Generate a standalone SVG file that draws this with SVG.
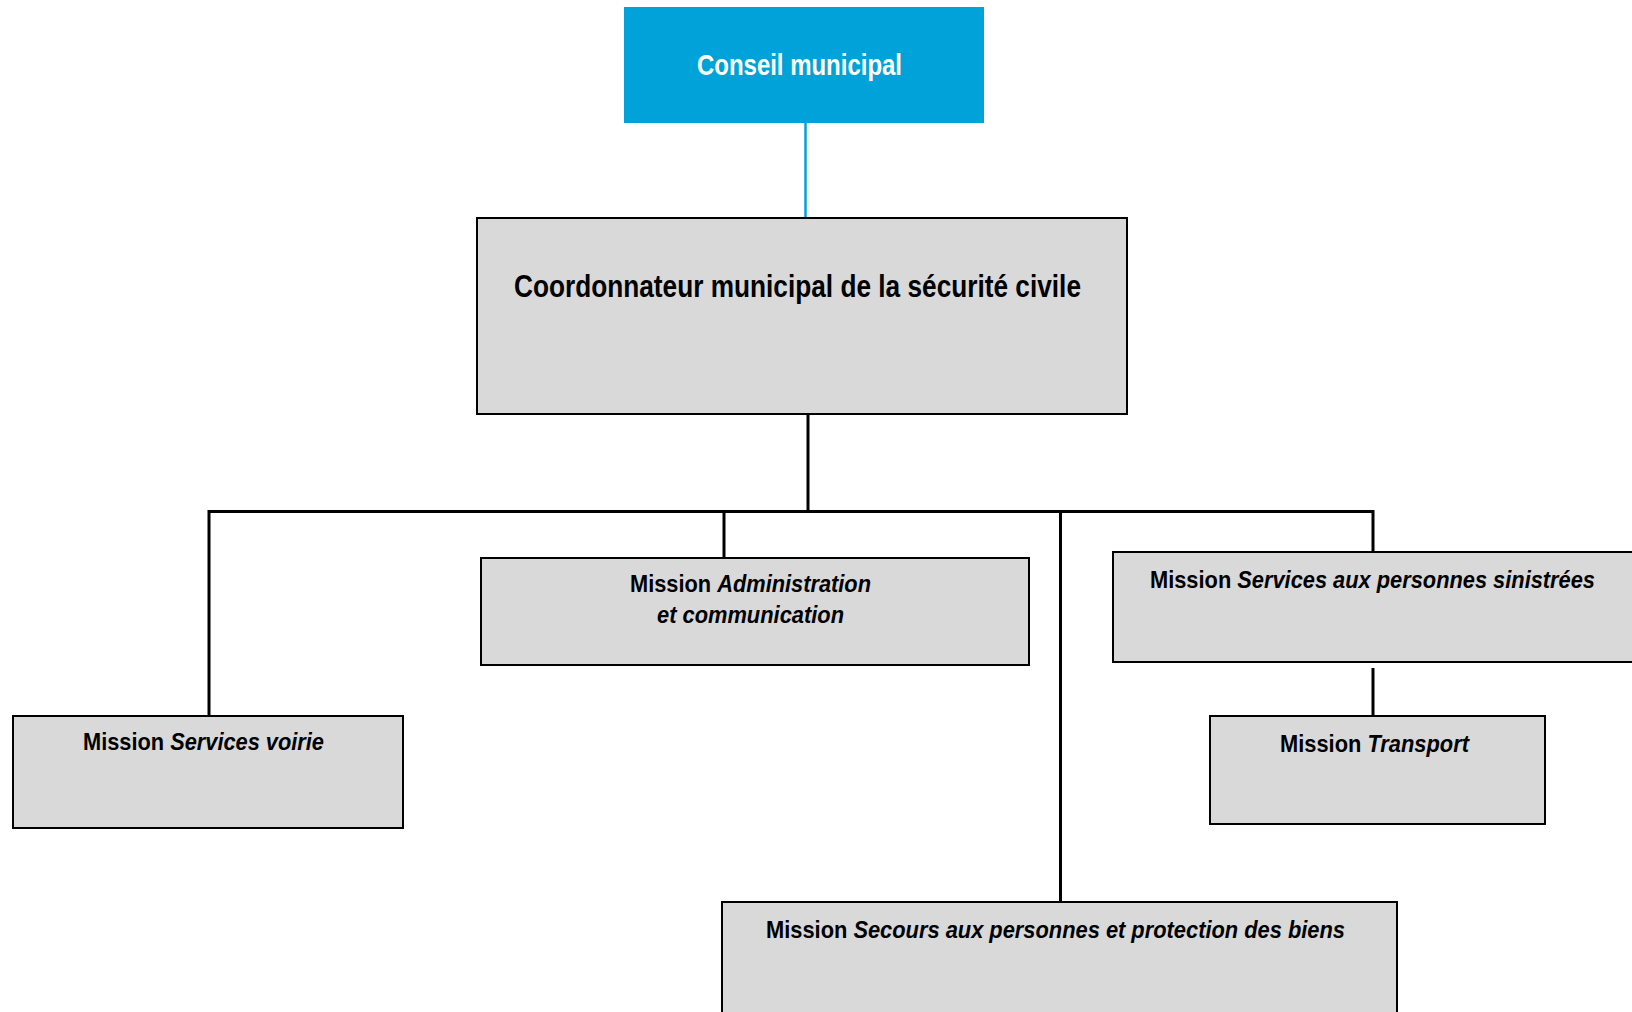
<svg xmlns="http://www.w3.org/2000/svg" width="1632" height="1012" viewBox="0 0 1632 1012">
<style>
.box{fill:#d9d9d9;stroke:#000;stroke-width:2}
.t{font-family:"Liberation Sans Narrow","Liberation Sans",Arial,sans-serif;font-weight:bold;fill:#000}
.m{font-size:24px}
.i{font-style:italic}
.c{fill:none;stroke:#000;stroke-width:3}
</style>
<rect width="1632" height="1012" fill="#fff"/>
<g id="connectors">
<line x1="805.5" y1="123" x2="805.5" y2="218" stroke="#00a3d9" stroke-width="2.5"/>
<line class="c" x1="808" y1="414" x2="808" y2="511.5"/>
<polyline class="c" points="209,715 209,511.5 1373,511.5 1373,556"/>
<line class="c" x1="724" y1="511.5" x2="724" y2="558"/>
<line class="c" x1="1060.5" y1="511.5" x2="1060.5" y2="905"/>
<line class="c" x1="1373" y1="668" x2="1373" y2="716"/>
</g>
<g id="conseil">
<rect x="624" y="7" width="360" height="116" fill="#00a3d9"/>
<text class="t" x="697" y="75" font-size="30" fill="#fff" style="fill:#fff" textLength="205" lengthAdjust="spacingAndGlyphs">Conseil municipal</text>
</g>
<g id="coordonnateur">
<rect class="box" x="477" y="218" width="650" height="196"/>
<text class="t" x="514" y="297" font-size="31" textLength="567" lengthAdjust="spacingAndGlyphs">Coordonnateur municipal de la sécurité civile</text>
</g>
<g id="administration">
<rect class="box" x="481" y="558" width="548" height="107"/>
<text class="t m" x="630" y="592" textLength="241" lengthAdjust="spacingAndGlyphs">Mission <tspan class="i">Administration</tspan></text>
<text class="t m i" x="657" y="623" textLength="187" lengthAdjust="spacingAndGlyphs">et communication</text>
</g>
<g id="voirie">
<rect class="box" x="13" y="716" width="390" height="112"/>
<text class="t m" x="83" y="750" textLength="241" lengthAdjust="spacingAndGlyphs">Mission <tspan class="i">Services voirie</tspan></text>
</g>
<g id="sinistrees">
<rect class="box" x="1113" y="552" width="540" height="110"/>
<text class="t m" x="1150" y="588" textLength="445" lengthAdjust="spacingAndGlyphs">Mission <tspan class="i">Services aux personnes sinistrées</tspan></text>
</g>
<g id="transport">
<rect class="box" x="1210" y="716" width="335" height="108"/>
<text class="t m" x="1280" y="752" textLength="189" lengthAdjust="spacingAndGlyphs">Mission <tspan class="i">Transport</tspan></text>
</g>
<g id="secours">
<rect class="box" x="722" y="902" width="675" height="130"/>
<text class="t m" x="766" y="938" textLength="579" lengthAdjust="spacingAndGlyphs">Mission <tspan class="i">Secours aux personnes et protection des biens</tspan></text>
</g>
</svg>
